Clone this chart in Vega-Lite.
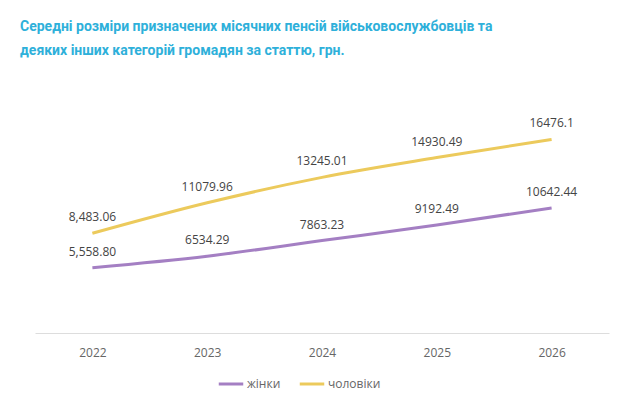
{
  "$schema": "https://vega.github.io/schema/vega-lite/v6.json",
  "autosize": "none",
  "width": 574,
  "height": 235,
  "padding": {"left": 35, "top": 98, "right": 25, "bottom": 82},
  "background": "white",
  "title": {
    "text": ["Середні розміри призначених місячних пенсій військовослужбовців та", "деяких інших категорій громадян за статтю, грн."],
    "anchor": "start",
    "dx": -15,
    "offset": 40,
    "font": "Roboto",
    "fontSize": 14,
    "fontWeight": "bold",
    "color": "#2eb0da",
    "lineHeight": 24
  },
  "config": {
    "view": {"stroke": null},
    "font": "Open Sans"
  },
  "data": {
    "values": [
      {"year": "2022", "series": "жінки", "value": 5558.80, "label": "5,558.80"},
      {"year": "2023", "series": "жінки", "value": 6534.29, "label": "6534.29"},
      {"year": "2024", "series": "жінки", "value": 7863.23, "label": "7863.23"},
      {"year": "2025", "series": "жінки", "value": 9192.49, "label": "9192.49"},
      {"year": "2026", "series": "жінки", "value": 10642.44, "label": "10642.44"},
      {"year": "2022", "series": "чоловіки", "value": 8483.06, "label": "8,483.06"},
      {"year": "2023", "series": "чоловіки", "value": 11079.96, "label": "11079.96"},
      {"year": "2024", "series": "чоловіки", "value": 13245.01, "label": "13245.01"},
      {"year": "2025", "series": "чоловіки", "value": 14930.49, "label": "14930.49"},
      {"year": "2026", "series": "чоловіки", "value": 16476.1, "label": "16476.1"}
    ]
  },
  "encoding": {
    "x": {
      "field": "year",
      "type": "ordinal",
      "scale": {"type": "point", "padding": 0.5},
      "axis": {
        "title": null,
        "labelAngle": 0,
        "ticks": false,
        "domainColor": "#dddddd",
        "labelColor": "#666666",
        "labelFontSize": 12,
        "labelPadding": 14,
        "grid": false
      }
    },
    "y": {
      "field": "value",
      "type": "quantitative",
      "scale": {"domain": [0, 20000]},
      "axis": null
    }
  },
  "layer": [
    {
      "mark": {"type": "line", "strokeWidth": 3, "interpolate": "monotone"},
      "encoding": {
        "color": {
          "field": "series",
          "type": "nominal",
          "scale": {"domain": ["жінки", "чоловіки"], "range": ["#a47fc3", "#ecca5c"]},
          "legend": {
            "title": null,
            "orient": "none",
            "legendX": 182,
            "legendY": 272,
            "direction": "horizontal",
            "symbolType": "stroke",
            "symbolStrokeWidth": 3,
            "symbolSize": 600,
            "labelOffset": 2,
            "labelFontSize": 12,
            "labelColor": "#666666",
            "columnPadding": 12
          }
        }
      }
    },
    {
      "mark": {"type": "text", "dy": -16, "fontSize": 12, "color": "#444444"},
      "encoding": {
        "text": {"field": "label"}
      }
    }
  ]
}
